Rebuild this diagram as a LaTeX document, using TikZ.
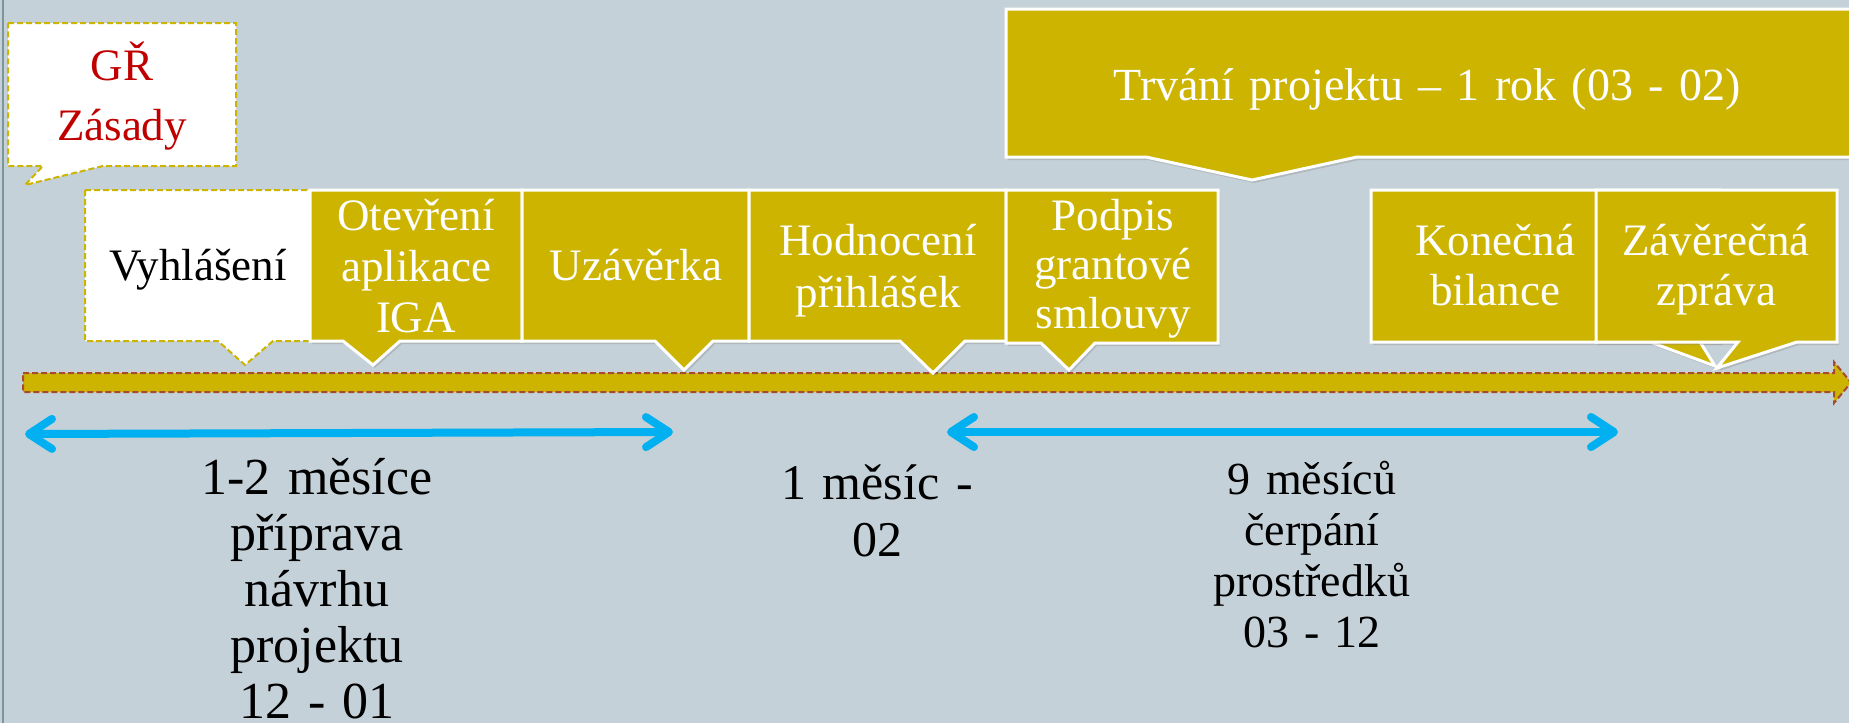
\documentclass[tikz,border=0pt]{standalone}
\usepackage{fontspec}
\setmainfont{Liberation Serif}
\usetikzlibrary{arrows.meta,shadows}
\definecolor{slide}{HTML}{C5D1D8}
\definecolor{mustard}{HTML}{CCB400}
\definecolor{skyline}{HTML}{00B0F0}
\definecolor{rust}{HTML}{A64B2E}
\definecolor{grred}{HTML}{C00000}
\definecolor{rim}{HTML}{7F9699}
\def\wedgebox[#1](#2,#3)(#4,#5)(#6:#7)(#8,#9){\draw[#1] (#2,#3) -- (#4,#3) -- (#4,#5) -- (#7,#5) -- (#8,#9) -- (#6,#5) -- (#2,#5) -- cycle;}

\begin{document}
\begin{tikzpicture}[x=1pt, y=-1pt,
	gold/.style={fill=mustard, draw=white, line width=3pt, drop shadow={shadow xshift=2pt, shadow yshift=-3pt, opacity=0.3}},
	paper/.style={fill=white, draw=mustard, line width=2pt, dash pattern=on 6pt off 3pt},
	tag/.style={text=white, anchor=base, align=center, text width=250pt, inner sep=0pt, font=\fontsize{45}{50}\selectfont},
	note/.style={anchor=base, align=center, text width=300pt, inner sep=0pt},
	span/.style={draw=skyline, line width=8pt, {Straight Barb[length=23pt, width=30pt, round]}-{Straight Barb[length=23pt, width=30pt, round]}}]
			%%%%% START %%%%%
			
			\useasboundingbox (0,0) rectangle (1849,723);
			\clip (0,0) rectangle (1849,723);
			\fill[slide] (0,0) rectangle (1849,723);
			\draw[rim, line width=2pt] (3,0) -- (3,723);
			
			% time line
			\draw[fill=mustard, draw=rust, line width=2pt, dash pattern=on 6pt off 3pt] (23,373) -- (1834,373) -- (1834,362) -- (1851,382.5) -- (1834,403) -- (1834,392) -- (23,392) -- cycle;
			
			% spans
			\coordinate (p1) at (25,434);
			\coordinate (p2) at (673,432);
			\coordinate (c1) at (947,432);
			\coordinate (c2) at (1618,432);
			\draw[span] (p1) -- (p2);
			\draw[span] (c1) -- (c2);
			
			\node[note, font=\fontsize{52}{56}\selectfont] (priprava) at (317,494) {1-2 měsíce\\příprava\\návrhu\\projektu\\12 - 01};
			\node[note, font=\fontsize{50}{57}\selectfont] (mesic) at (877,499) {1 měsíc -\\02};
			\node[note, font=\fontsize{46}{51}\selectfont] (cerpani) at (1312,494) {9 měsíců\\čerpání\\prostředků\\03 - 12};
			
			% callouts
			\wedgebox[paper](8,23)(236,166)(43:103)(25,185)
			\node[tag, text=grred, font=\fontsize{45}{60}\selectfont] (gr) at (122,80) {GŘ\\Zásady};
			
			\wedgebox[paper](85,190)(315,341)(218:273)(245,365)
			\node[tag, text=black] (vyhl) at (198,280) {Vyhlášení};
			
			\wedgebox[gold](310,190)(522,341)(343:400)(373,365)
			\node[tag, font=\fontsize{45}{51}\selectfont] (otev) at (416,230) {Otevření\\aplikace\\IGA};
			
			\wedgebox[gold](522,190)(749,341)(655:713)(684,370)
			\node[tag] (uzav) at (636,280) {Uzávěrka};
			
			\wedgebox[gold](749,190)(1006,341)(900:965)(933,373)
			\node[tag, font=\fontsize{45}{52}\selectfont] (hodn) at (878,255) {Hodnocení\\přihlášek};
			
			\wedgebox[gold](1006,190)(1218,343)(1041:1095)(1069,370)
			\node[tag, font=\fontsize{45}{49}\selectfont] (podp) at (1113,230) {Podpis\\grantové\\smlouvy};
			
			\wedgebox[gold](1006,9)(1870,157)(1146:1357)(1252,180)
			\node[tag, text width=700pt, font=\fontsize{46}{52}\selectfont] (trvani) at (1427,100) {Trvání projektu -- 1 rok (03 - 02)};
			
			\wedgebox[gold](1371,190)(1720,342)(1650:1700)(1715,366)
			\node[tag] (konec) at (1495,255) {Konečná\\bilance};
			
			\wedgebox[gold](1596,190)(1837,342)(1738:1797)(1717,368)
			\node[tag] (zaver) at (1716,255) {Závěrečná\\zpráva};
			
			%%%%% END %%%%%
\end{tikzpicture}
\end{document}
